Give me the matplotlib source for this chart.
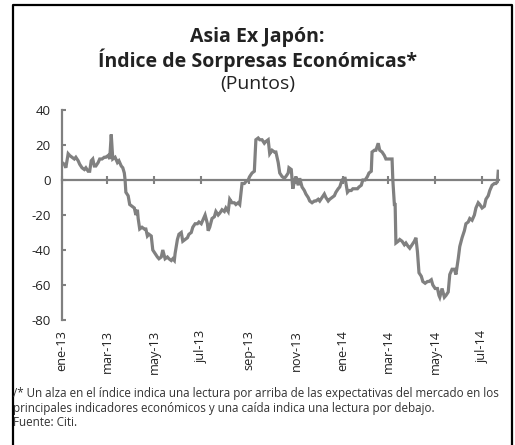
import numpy as np
import pandas as pd
import matplotlib
matplotlib.use("Agg")
import matplotlib.pyplot as plt
from matplotlib.lines import Line2D

plt.rcParams['font.family'] = ['Open Sans', 'DejaVu Sans']
plt.rcParams['axes.unicode_minus'] = False

days = [0, 3, 5, 8, 10, 13, 16, 18, 21, 23, 26, 29, 31, 34, 36, 38, 40, 42, 44, 47,
        49, 52, 55, 57, 60, 62, 64, 65, 66, 69, 72, 74, 77, 79, 81, 82, 83, 86, 88, 91,
        94, 96, 98, 99, 101, 104, 107, 109, 111, 113, 116, 118, 121, 124, 126, 129, 131, 134, 137, 139,
        142, 144, 146, 147, 150, 152, 155, 157, 160, 163, 165, 168, 170, 173, 176, 178, 181, 183, 186, 189,
        190, 192, 195, 198, 200, 203, 205, 208, 211, 213, 216, 218, 221, 224, 226, 229, 231, 234, 237, 239,
        242, 244, 247, 250, 252, 255, 257, 260, 263, 265, 268, 270, 273, 276, 278, 281, 283, 286, 289, 291,
        294, 295, 298, 300, 302, 304, 307, 309, 312, 315, 317, 320, 322, 325, 328, 330, 333, 335, 338, 341,
        343, 346, 348, 351, 354, 356, 359, 361, 364, 367, 368, 371, 373, 376, 378, 381, 384, 386, 389, 391,
        394, 397, 399, 402, 403, 406, 408, 411, 413, 416, 419, 421, 424, 426, 429, 430, 432, 433, 434, 437,
        439, 442, 445, 447, 450, 452, 455, 458, 460, 462, 464, 467, 469, 472, 475, 477, 480, 482, 485, 488,
        490, 491, 494, 497, 499, 502, 504, 507, 510, 512, 515, 517, 520, 523, 525, 528, 530, 533, 536, 538,
        541, 543, 546, 549, 551, 554, 556, 559, 562, 564, 566, 567]

values = [10, 9, 7, 15, 14, 13, 12, 13, 11, 9, 7, 6, 7, 5, 5, 11, 12, 8, 8, 10,
          12, 12, 13, 13, 14, 12, 26, 19, 12, 13, 10, 11, 8, 7, 4, 0, -7, -9, -14, -15,
          -16, -20, -17, -22, -28, -27, -28, -28, -32, -31, -32, -40, -42, -44, -45, -44, -40, -45, -44, -45,
          -46, -45, -46, -42, -34, -31, -30, -35, -34, -33, -31, -30, -27, -25, -25, -24, -25, -23, -20, -25,
          -29, -27, -22, -21, -18, -20, -19, -17, -18, -16, -18, -11, -13, -13, -14, -13, -14, -2, -2, -1,
          0, 2, 4, 5, 23, 24, 23, 23, 21, 22, 23, 15, 17, 16, 16, 10, 4, 2, 1, 2,
          4, 7, 6, -5, -1, 2, -3, 1, -4, -6, -8, -10, -12, -13, -12, -12, -11, -12, -10, -8,
          -10, -12, -11, -10, -9, -7, -5, -4, 0, 1, 1, -7, -6, -6, -5, -5, -5, -4, -3, 0,
          0, 2, 4, 5, 16, 17, 17, 21, 17, 16, 14, 12, 12, 12, 12, 0, -14, -14, -36, -35,
          -34, -35, -37, -36, -38, -39, -37, -35, -33, -41, -53, -55, -58, -59, -58, -58, -57, -60, -62, -62,
          -66, -67, -62, -67, -66, -64, -54, -51, -51, -54, -45, -38, -33, -29, -25, -24, -22, -23, -20, -16,
          -13, -14, -16, -15, -11, -9, -6, -3, -2, -2, -1, 5]

tick_labels = ["ene-13", "mar-13", "may-13", "jul-13", "sep-13", "nov-13",
               "ene-14", "mar-14", "may-14", "jul-14"]
y_ticks = [-80, -60, -40, -20, 0, 20, 40]

title_lines = ["Asia Ex Japón:", "Índice de Sorpresas Económicas*"]
subtitle = "(Puntos)"
footnote_lines = [
    "/* Un alza en el índice indica una lectura por arriba de las expectativas del mercado en los",
    "principales indicadores económicos y una caída indica una lectura por debajo.",
    "Fuente: Citi.",
]

n = min(len(days), len(values))
days_arr = np.array(days[:n])
vals = np.array(values[:n], dtype=float)
start = np.datetime64('2013-01-01')
dates = start + days_arr.astype('timedelta64[D]')

GRAY = '#808080'
TXT = '#222222'

fig = plt.figure(figsize=(5.15, 4.45), dpi=100)
fig.patch.set_facecolor('white')
W, H = 515, 445
ax = fig.add_axes([62 / W, 1 - 320 / H, (499 - 62) / W, (320 - 110) / H])

ax.plot(dates, vals, color=GRAY, lw=2.3, solid_joinstyle='miter')

xticks = pd.date_range('2013-01-01', '2014-07-01', freq='2MS')
ax.set_xlim(start, start + np.timedelta64(568, 'D'))
ax.set_ylim(-80, 40)
ax.set_yticks(y_ticks)
ax.set_xticks(xticks)
ax.set_xticklabels(tick_labels, rotation=90, fontsize=9.2, color=TXT)
ax.tick_params(axis='x', length=0, pad=7)
ax.tick_params(axis='y', direction='in', length=3, width=1.5, color=GRAY,
               labelsize=9.5, labelcolor=TXT, pad=8)
for s in ['top', 'right', 'bottom']:
    ax.spines[s].set_visible(False)
ax.spines['left'].set_color(GRAY)
ax.spines['left'].set_linewidth(1.6)

sec = ax.secondary_xaxis(2 / 3)
sec.set_xticks(xticks)
sec.tick_params(direction='inout', length=6, width=1.5, color=GRAY, labelbottom=False,
                labeltop=False, top=True, bottom=False)
for s in sec.spines.values():
    s.set_color(GRAY)
    s.set_linewidth(1.6)

fig.text(0.5, 1 - 42 / H, title_lines[0], ha='center', va='baseline', fontsize=14,
         fontweight='bold', color=TXT)
fig.text(0.5, 1 - 67 / H, title_lines[1], ha='center', va='baseline', fontsize=14,
         fontweight='bold', color=TXT)
fig.text(0.5, 1 - 88.5 / H, subtitle, ha='center', va='baseline', fontsize=14, color=TXT)

for i, line in enumerate(footnote_lines):
    fig.text(13 / W, 1 - (397.5 + 14.5 * i) / H, line, ha='left', va='baseline',
             fontsize=8.4, color='#333333')

# border
fig.add_artist(Line2D([13 / W, 13 / W, 512 / W, 512 / W], [0, 1 - 5 / H, 1 - 5 / H, 0],
                      transform=fig.transFigure, color='black', lw=1.6))

fig.savefig('out.png', dpi=100, facecolor='white')
